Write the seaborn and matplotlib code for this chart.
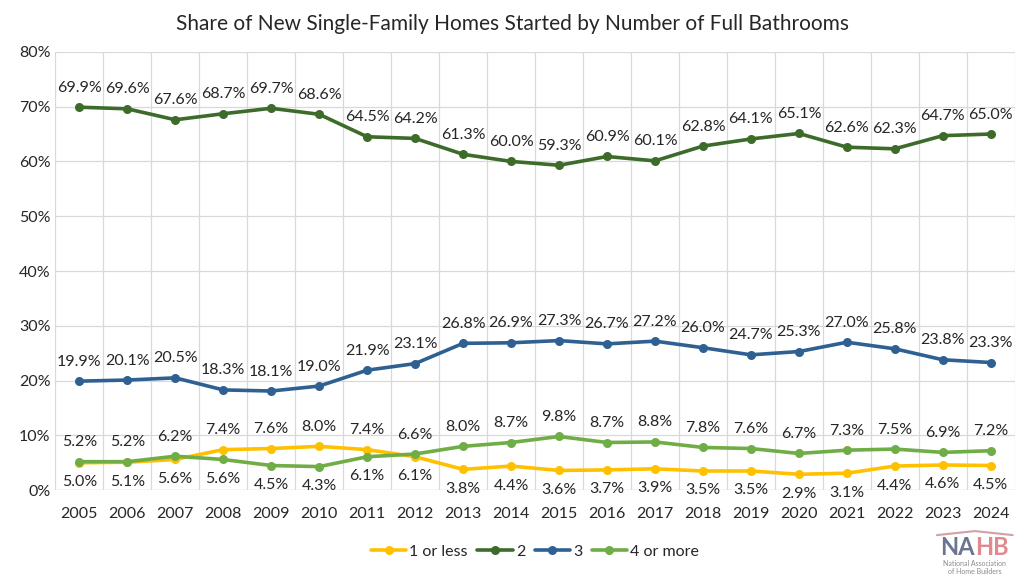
import numpy as np
import pandas as pd
import matplotlib.pyplot as plt
import seaborn as sns

years = list(range(2005, 2025))
one_or_less = [5.0, 5.1, 5.6, 7.4, 7.6, 8.0, 7.4, 6.1, 3.8, 4.4, 3.6, 3.7, 3.9, 3.5, 3.5, 2.9, 3.1, 4.4, 4.6, 4.5]
two = [69.9, 69.6, 67.6, 68.7, 69.7, 68.6, 64.5, 64.2, 61.3, 60.0, 59.3, 60.9, 60.1, 62.8, 64.1, 65.1, 62.6, 62.3, 64.7, 65.0]
three = [19.9, 20.1, 20.5, 18.3, 18.1, 19.0, 21.9, 23.1, 26.8, 26.9, 27.3, 26.7, 27.2, 26.0, 24.7, 25.3, 27.0, 25.8, 23.8, 23.3]
four_plus = [5.2, 5.2, 6.2, 5.6, 4.5, 4.3, 6.1, 6.6, 8.0, 8.7, 9.8, 8.7, 8.8, 7.8, 7.6, 6.7, 7.3, 7.5, 6.9, 7.2]

series = {"1 or less": one_or_less, "2": two, "3": three, "4 or more": four_plus}
colors = {"1 or less": "#FFC000", "2": "#3D6B2A", "3": "#2E6092", "4 or more": "#70AD47"}

df = pd.concat([pd.DataFrame({"year": years, "share": v, "baths": k}) for k, v in series.items()])

sns.set_style("white")
plt.rcParams['font.family'] = ['Lato', 'DejaVu Sans']

fig = plt.figure(figsize=(10.24, 5.76), dpi=100)
ax = fig.add_axes([0.054, 0.149, 0.937, 0.761])

sns.lineplot(data=df, x="year", y="share", hue="baths", palette=colors, marker="o",
             markersize=6.5, markeredgewidth=0, linewidth=2.6, ax=ax, legend=True)

# data labels
for i, yr in enumerate(years):
    for k in ["2", "3"]:
        ax.annotate(f"{series[k][i]:.1f}%", (yr, series[k][i]), xytext=(0, 9),
                    textcoords="offset points", ha="center", va="bottom", fontsize=11.5)
    green_up = not (2008 <= yr <= 2011)
    g_off, y_off = (9, -9) if green_up else (-9, 9)
    ax.annotate(f"{four_plus[i]:.1f}%", (yr, four_plus[i]), xytext=(0, g_off),
                textcoords="offset points", ha="center",
                va="bottom" if g_off > 0 else "top", fontsize=11.5)
    ax.annotate(f"{one_or_less[i]:.1f}%", (yr, one_or_less[i]), xytext=(0, y_off),
                textcoords="offset points", ha="center",
                va="bottom" if y_off > 0 else "top", fontsize=11.5)

ax.set_xlim(2004.5, 2024.5)
ax.set_ylim(0, 80)
ax.set_xticks(years)
ax.set_xticks(np.arange(2004.5, 2025, 1), minor=True)
ax.set_yticks(range(0, 81, 10))
ax.set_yticklabels([f"{v}%" for v in range(0, 81, 10)])
ax.tick_params(axis="both", which="both", length=0, labelsize=11.5)
ax.tick_params(axis="x", pad=12)
ax.grid(True, axis="y", color="#d9d9d9", linewidth=0.9)
ax.grid(True, axis="x", which="minor", color="#d9d9d9", linewidth=0.9)
ax.set_xlabel("")
ax.set_ylabel("")
for s in ax.spines.values():
    s.set_visible(False)
ax.axhline(0, color="#d9d9d9", linewidth=1)

fig.suptitle("Share of New Single-Family Homes Started by Number of Full Bathrooms",
             y=0.975, fontsize=15)

h, l = ax.get_legend_handles_labels()
ax.legend(h, l, loc="lower center", bbox_to_anchor=(0.5, -0.19), ncol=4, frameon=False,
          fontsize=11.5, handlelength=2.2, columnspacing=0.6, handletextpad=0.2)

# logo
fig.text(0.952, 0.037, "NA", ha="right", va="baseline", fontsize=17, fontweight="bold", color="#6b7590")
fig.text(0.952, 0.037, "HB", ha="left", va="baseline", fontsize=17, fontweight="bold", color="#e0898f")
fig.text(0.952, 0.022, "National Association", ha="center", va="center", fontsize=5, color="#8a8a8a")
fig.text(0.952, 0.008, "of Home Builders", ha="center", va="center", fontsize=5, color="#8a8a8a")
fig.add_artist(plt.Line2D([0.915, 0.952, 0.989], [0.071, 0.078, 0.071], transform=fig.transFigure,
                          color="#d4a0a4", linewidth=1.5))

fig.savefig("out.png", dpi=100)
